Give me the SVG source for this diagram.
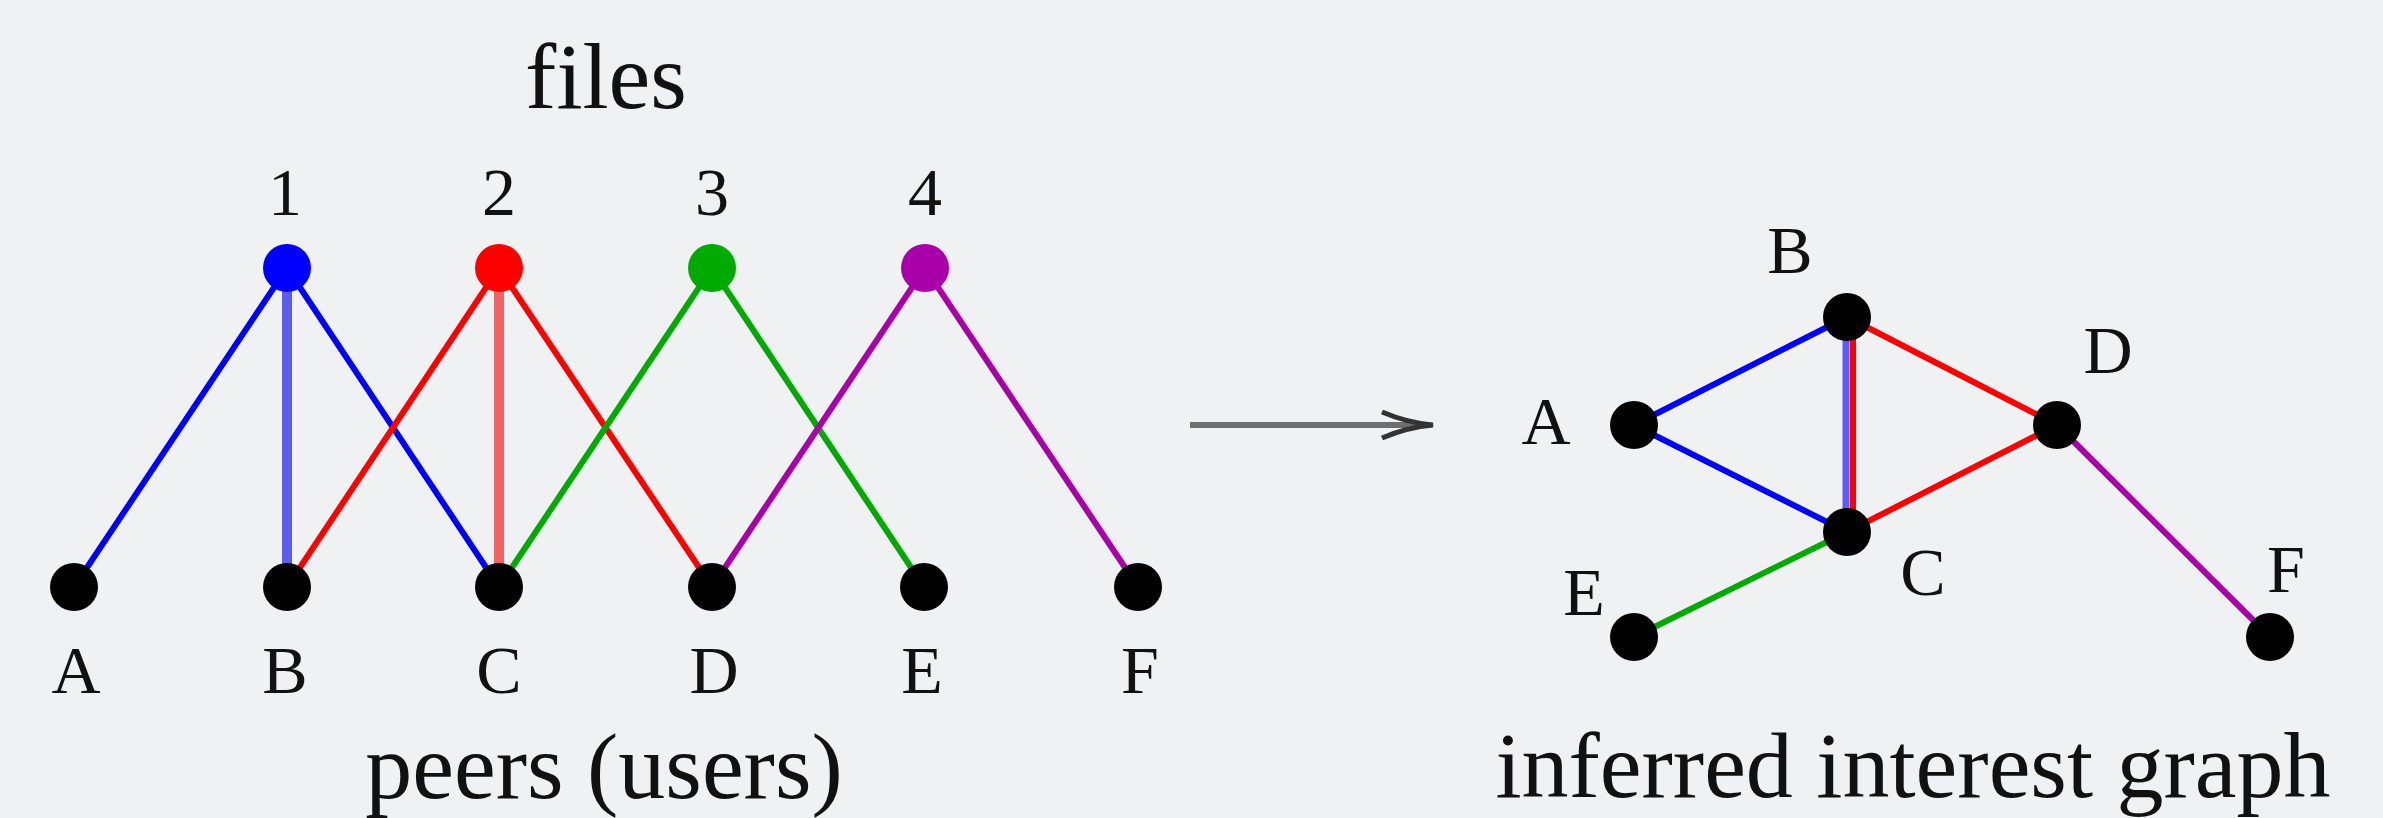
<svg xmlns="http://www.w3.org/2000/svg" width="2383" height="818" viewBox="0 0 2383 818">
<style>
text{font-family:"Liberation Serif","Times New Roman",serif;fill:#111;text-anchor:middle}
.lbl{font-size:68px}
.title{font-size:94px}
.e{fill:none;stroke-linecap:butt}
.blue{stroke:#0000ff;stroke-width:6}
.red{stroke:#ff0000;stroke-width:6}
.green{stroke:#00aa00;stroke-width:6}
.purple{stroke:#aa00aa;stroke-width:6}
.peer{fill:#000}
</style>
<rect width="2383" height="818" fill="#f0f1f3"/>
<text class="title" x="606" y="108">files</text>
<text class="title" x="604" y="798">peers (users)</text>
<text class="title" x="1913" y="797">inferred interest graph</text>
<g id="connectors">
  <line class="e blue" x1="287" y1="268" x2="74" y2="587"/>
  <line class="e" x1="287" y1="268" x2="287" y2="587" stroke="#5c5cee" stroke-width="10"/>
  <line class="e blue" x1="287" y1="268" x2="499" y2="587"/>
  <line class="e red" x1="499" y1="268" x2="287" y2="587"/>
  <line class="e" x1="499" y1="268" x2="499" y2="587" stroke="#f06464" stroke-width="10"/>
  <line class="e red" x1="499" y1="268" x2="712" y2="587"/>
  <line class="e green" x1="712" y1="268" x2="499" y2="587"/>
  <line class="e green" x1="712" y1="268" x2="924" y2="587"/>
  <line class="e purple" x1="925" y1="268" x2="712" y2="587"/>
  <line class="e purple" x1="925" y1="268" x2="1138" y2="587"/>
  <line x1="1190" y1="425" x2="1426" y2="425" stroke="#6e6e6e" stroke-width="6"/>
  <path d="M1382,412 Q1408,423 1433,425 Q1408,427 1382,438" fill="none" stroke="#333" stroke-width="5"/>
  <line class="e blue" x1="1634" y1="425" x2="1847" y2="317"/>
  <line class="e blue" x1="1634" y1="425" x2="1847" y2="532"/>
  <line class="e" x1="1846" y1="317" x2="1846" y2="532" stroke="#5a5aff" stroke-width="7"/>
  <line class="e red" x1="1853" y1="317" x2="1853" y2="532" stroke-width="5"/>
  <line class="e red" x1="1847" y1="317" x2="2057" y2="425"/>
  <line class="e red" x1="1847" y1="532" x2="2057" y2="425"/>
  <line class="e green" x1="1847" y1="532" x2="1634" y2="637"/>
  <line class="e purple" x1="2057" y1="425" x2="2270" y2="637"/>
</g>
<g id="file-1"><circle cx="287" cy="268" r="24" fill="#0000ff"/><text class="lbl" x="285" y="215">1</text></g>
<g id="file-2"><circle cx="499" cy="268" r="24" fill="#ff0000"/><text class="lbl" x="499" y="215">2</text></g>
<g id="file-3"><circle cx="712" cy="268" r="24" fill="#00aa00"/><text class="lbl" x="712" y="215">3</text></g>
<g id="file-4"><circle cx="925" cy="268" r="24" fill="#aa00aa"/><text class="lbl" x="925" y="215">4</text></g>
<g id="peer-A"><circle class="peer" cx="74" cy="587" r="24"/><text class="lbl" x="76" y="693">A</text></g>
<g id="peer-B"><circle class="peer" cx="287" cy="587" r="24"/><text class="lbl" x="285" y="693">B</text></g>
<g id="peer-C"><circle class="peer" cx="499" cy="587" r="24"/><text class="lbl" x="499" y="693">C</text></g>
<g id="peer-D"><circle class="peer" cx="712" cy="587" r="24"/><text class="lbl" x="714" y="693">D</text></g>
<g id="peer-E"><circle class="peer" cx="924" cy="587" r="24"/><text class="lbl" x="922" y="693">E</text></g>
<g id="peer-F"><circle class="peer" cx="1138" cy="587" r="24"/><text class="lbl" x="1140" y="693">F</text></g>
<g id="g-A"><circle class="peer" cx="1634" cy="425" r="24"/><text class="lbl" x="1546" y="444">A</text></g>
<g id="g-B"><circle class="peer" cx="1847" cy="317" r="24"/><text class="lbl" x="1790" y="273">B</text></g>
<g id="g-C"><circle class="peer" cx="1847" cy="532" r="24"/><text class="lbl" x="1923" y="595">C</text></g>
<g id="g-D"><circle class="peer" cx="2057" cy="425" r="24"/><text class="lbl" x="2108" y="373">D</text></g>
<g id="g-E"><circle class="peer" cx="1634" cy="637" r="24"/><text class="lbl" x="1584" y="615">E</text></g>
<g id="g-F"><circle class="peer" cx="2270" cy="637" r="24"/><text class="lbl" x="2286" y="592">F</text></g>
</svg>
